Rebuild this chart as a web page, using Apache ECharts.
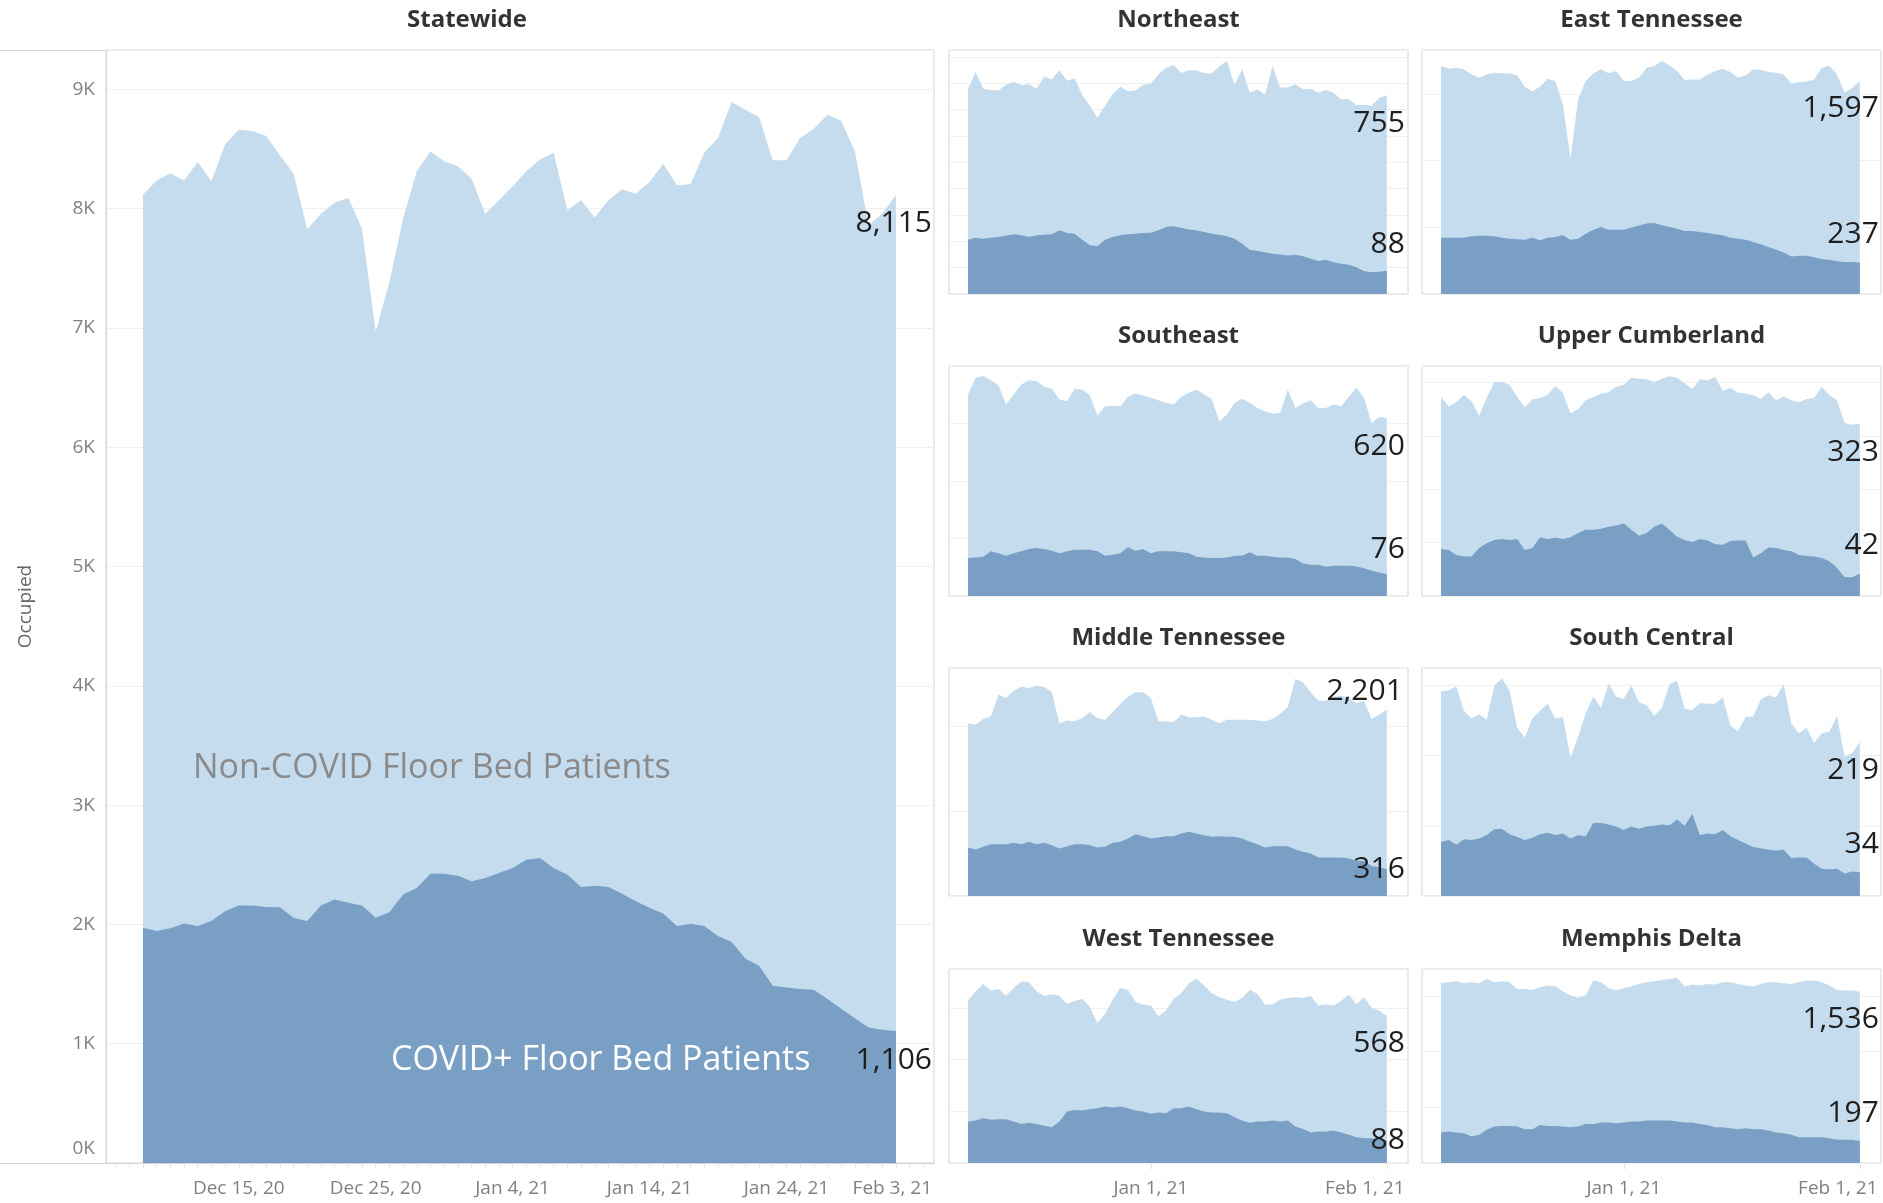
<!DOCTYPE html>
<html><head><meta charset="utf-8">
<script src="https://cdn.jsdelivr.net/npm/echarts@6/dist/echarts.min.js"></script>
<style>html,body{margin:0;padding:0;background:#fff}#c{width:1883px;height:1203px}</style>
</head><body><div id="c"></div>
<script>
// ---------------- DATA ----------------
const dates = ['2020-12-08','2020-12-09','2020-12-10','2020-12-11','2020-12-12','2020-12-13','2020-12-14','2020-12-15','2020-12-16','2020-12-17',
'2020-12-18','2020-12-19','2020-12-20','2020-12-21','2020-12-22','2020-12-23','2020-12-24','2020-12-25','2020-12-26','2020-12-27',
'2020-12-28','2020-12-29','2020-12-30','2020-12-31','2021-01-01','2021-01-02','2021-01-03','2021-01-04','2021-01-05','2021-01-06',
'2021-01-07','2021-01-08','2021-01-09','2021-01-10','2021-01-11','2021-01-12','2021-01-13','2021-01-14','2021-01-15','2021-01-16',
'2021-01-17','2021-01-18','2021-01-19','2021-01-20','2021-01-21','2021-01-22','2021-01-23','2021-01-24','2021-01-25','2021-01-26',
'2021-01-27','2021-01-28','2021-01-29','2021-01-30','2021-01-31','2021-02-01'];

const statewideXTickDates = ['2020-12-15','2020-12-25','2021-01-04','2021-01-14','2021-01-24','2021-02-03'];
const statewideXTickLabels = ['Dec 15, 20','Dec 25, 20','Jan 4, 21','Jan 14, 21','Jan 24, 21','Feb 3, 21'];
const regionXTickDates = ['2021-01-01','2021-02-01'];
const regionXTickLabels = ['Jan 1, 21','Feb 1, 21'];
const statewideYTicks = [0,1000,2000,3000,4000,5000,6000,7000,8000,9000];
const statewideYTickLabels = ['0K','1K','2K','3K','4K','5K','6K','7K','8K','9K'];

const statewideNonCovid = [8117,8237,8296,8237,8391,8229,8539,8662,8651,8609,8447,8293,7827,7958,8050,8092,7832,6966,7385,7916,8313,8480,8397,8355,8251,7958,8070,8187,8313,8413,8469,7986,8070,7925,8070,8162,8126,8223,8377,8196,8204,8469,8592,8894,8830,8768,8405,8405,8592,8670,8788,8737,8480,7860,7958,8115];
const statewideCovid = [1972,1944,1967,2008,1986,2028,2111,2158,2158,2147,2144,2056,2028,2158,2208,2181,2158,2056,2103,2250,2306,2425,2425,2408,2361,2389,2431,2472,2542,2556,2472,2417,2314,2325,2314,2258,2194,2139,2092,1986,2006,1986,1903,1853,1714,1653,1486,1472,1458,1453,1375,1292,1214,1136,1117,1106];

const northeastNonCovid = [780,843,780,775,773,795,805,793,797,780,825,815,850,810,820,755,715,670,715,760,787,770,773,795,798,835,860,870,840,850,850,840,838,865,885,795,855,765,778,757,865,785,785,797,778,780,765,775,765,740,740,718,718,715,745,755];
const northeastCovid = [206,214,210,214,217,222,227,223,217,223,225,227,242,232,229,206,185,181,206,217,223,227,229,232,233,242,255,257,252,245,242,236,229,225,219,210,191,168,163,159,153,150,146,149,143,134,125,130,121,115,111,102,87,83,85,88];

const eastTnNonCovid = [1709,1689,1696,1684,1646,1621,1646,1659,1654,1654,1638,1553,1520,1553,1613,1596,1420,1018,1458,1596,1654,1684,1654,1671,1596,1596,1621,1696,1709,1747,1714,1671,1603,1608,1608,1646,1671,1689,1664,1621,1638,1684,1679,1664,1659,1646,1578,1588,1593,1608,1696,1709,1646,1508,1545,1597];
const eastTnCovid = [422,422,422,422,432,437,437,432,422,415,410,407,422,402,422,427,440,407,415,452,482,503,482,482,482,498,513,528,533,515,503,490,472,472,465,457,447,440,422,415,407,390,372,352,332,312,281,286,286,276,261,256,246,239,239,237];

const southeastNonCovid = [702,760,766,752,733,667,702,737,751,749,729,722,684,678,722,719,698,628,661,663,661,694,705,698,690,682,673,667,694,708,719,702,687,608,632,673,687,673,655,643,635,637,719,655,670,682,655,655,667,661,694,725,690,602,623,620];
const southeastCovid = [132,134,137,156,149,140,149,156,164,167,164,158,149,156,161,161,161,156,140,144,149,170,158,164,149,156,156,156,152,149,137,134,132,132,134,140,140,152,140,140,137,134,134,129,113,109,109,102,105,105,105,103,97,88,82,76];

const upperCumbNonCovid = [373,355,363,377,365,338,371,401,401,396,373,354,368,371,377,393,381,342,350,367,373,379,382,392,396,409,407,406,401,407,412,409,398,388,406,404,411,384,390,381,379,376,369,382,367,374,367,363,369,371,392,376,367,324,321,323];
const upperCumbCovid = [88,86,77,74,74,90,99,105,107,105,107,86,90,110,107,109,107,110,118,124,124,126,130,132,136,124,113,118,130,136,124,111,105,101,107,104,97,96,103,104,104,72,80,91,90,86,84,77,75,74,71,65,53,35,35,42];

const middleTnNonCovid = [2038,2023,2089,2117,2376,2336,2423,2470,2454,2481,2470,2403,2038,2070,2062,2101,2168,2101,2078,2168,2266,2352,2403,2403,2336,2062,2062,2050,2140,2109,2109,2117,2078,2038,2078,2078,2078,2078,2070,2062,2089,2148,2234,2560,2521,2403,2305,2305,2352,2364,2336,2274,2305,2089,2140,2201];
const middleTnCovid = [572,549,580,612,612,612,627,612,639,612,627,600,561,588,612,612,600,572,580,627,639,678,729,706,678,690,706,706,737,757,737,717,698,706,698,698,678,639,612,572,588,588,588,549,521,502,455,455,455,455,443,416,416,353,340,316];

const southCentralNonCovid = [292,293,299,264,253,259,251,300,310,293,240,226,253,264,274,253,255,197,227,260,284,268,303,284,281,300,276,272,257,268,302,307,267,265,275,274,274,283,243,235,255,256,280,286,283,302,246,232,240,218,232,234,257,198,204,219];
const southCentralCovid = [77,80,73,81,80,82,87,95,96,88,84,80,83,88,90,87,89,82,87,85,104,104,102,99,94,99,96,99,100,102,101,109,100,117,87,89,88,94,85,80,75,70,68,66,65,66,54,55,55,46,39,38,39,32,35,34];

const westTnNonCovid = [628,664,692,667,673,647,677,703,699,664,647,651,647,615,626,635,603,541,577,631,677,669,622,613,609,567,590,635,656,695,712,686,656,641,631,622,638,669,654,613,613,631,638,641,638,647,609,613,609,626,651,615,641,600,590,568];
const westTnCovid = [160,164,173,167,169,169,160,151,156,151,144,138,160,199,205,203,208,212,218,215,218,212,203,199,190,195,192,212,212,218,208,199,195,195,192,177,164,156,160,160,164,160,164,141,131,118,122,122,126,118,109,100,96,96,92,88];

const memphisNonCovid = [1613,1622,1631,1613,1622,1613,1652,1622,1631,1622,1562,1562,1553,1577,1592,1583,1542,1503,1482,1503,1637,1622,1571,1548,1571,1583,1607,1622,1631,1643,1652,1661,1583,1601,1592,1607,1601,1622,1622,1607,1592,1583,1607,1622,1622,1613,1607,1622,1637,1637,1622,1592,1553,1548,1548,1536];
const memphisCovid = [274,283,274,268,238,253,298,327,333,333,327,304,304,342,333,333,327,321,327,351,351,363,363,357,363,372,372,381,381,381,381,372,363,363,351,342,321,321,312,304,312,304,304,292,274,268,253,232,232,232,232,223,208,208,208,197];

// ---------------- STYLE / LAYOUT ----------------
const FONT = "'Open Sans', 'Noto Sans', sans-serif";
const LIGHT = '#c5dcef';
const DARK = '#7a9fc4';
const BORDER = '#d4d4d4';
const GRIDLINE = '#efefef';
const AXISTXT = '#808080';
const DAY = 86400000;
const ORIGIN = Date.parse('2020-12-15T00:00:00Z');
const toX = s => (Date.parse(s + 'T00:00:00Z') - ORIGIN) / DAY;
const xs = dates.map(toX);
const fmtNum = v => Number(v).toLocaleString('en-US');

const LC = 949, RC = 1422, CW = 459;
const ROWS = [[50, 244], [366, 230], [668, 228], [969, 194]];

const panels = [
  {title:'Statewide', nc:statewideNonCovid, cv:statewideCovid, grid:{left:106, top:50, width:828, height:1113}, yMax:9330, yStep:1000, main:true, xMin:-9.7, lab:[[36,29],[36,29]]},
  {title:'Northeast', nc:northeastNonCovid, cv:northeastCovid, col:LC, row:0, yMax:927, yStep:100, lab:[[18,28],[18,-26]]},
  {title:'East Tennessee', nc:eastTnNonCovid, cv:eastTnCovid, col:RC, row:0, yMax:1829, yStep:500, lab:[[19,28],[19,-28]]},
  {title:'Southeast', nc:southeastNonCovid, cv:southeastCovid, col:LC, row:1, yMax:801, yStep:200, lab:[[18,28],[18,-25]]},
  {title:'Upper Cumberland', nc:upperCumbNonCovid, cv:upperCumbCovid, col:RC, row:1, yMax:431, yStep:100, lab:[[19,29],[19,-28]]},
  {title:'Middle Tennessee', nc:middleTnNonCovid, cv:middleTnCovid, col:LC, row:2, yMax:2690, yStep:1000, lab:[[16,-18],[18,0]]},
  {title:'South Central', nc:southCentralNonCovid, cv:southCentralCovid, col:RC, row:2, yMax:325, yStep:100, lab:[[19,28],[19,-28]]},
  {title:'West Tennessee', nc:westTnNonCovid, cv:westTnCovid, col:LC, row:3, yMax:750, yStep:200, lab:[[18,27],[18,0]], bottom:true},
  {title:'Memphis Delta', nc:memphisNonCovid, cv:memphisCovid, col:RC, row:3, yMax:1741, yStep:500, lab:[[19,28],[19,-28]], bottom:true}
];

const grids = [], xAxes = [], yAxes = [], series = [], graphics = [];

panels.forEach((p, i) => {
  const g = p.main ? p.grid : {left:p.col, top:ROWS[p.row][0], width:CW, height:ROWS[p.row][1]};
  grids.push({left:g.left, top:g.top, width:g.width, height:g.height, show:true, borderColor:BORDER, borderWidth:1, backgroundColor:'transparent', containLabel:false});

  // title
  const cx = p.main ? 467 : g.left + g.width / 2;
  graphics.push({type:'text', x:cx, y:g.top - 30, silent:true,
    style:{text:p.title, fill:'#333333', font:`700 24px ${FONT}`, align:'center', verticalAlign:'middle'}});

  const tickDates = p.main ? statewideXTickDates : regionXTickDates;
  const tickLabels = p.main ? statewideXTickLabels : regionXTickLabels;
  const tickX = tickDates.map(toX);
  const showX = p.main || p.bottom;
  const minorTicks = [];
  if (p.main) { for (let d = Math.ceil(p.xMin); d <= 50; d++) minorTicks.push(d); }
  const lastShift = p.main ? 62 : 44;
  xAxes.push({
    type:'value', gridIndex:i, min:p.main ? p.xMin : -9.5, max:50.78,
    axisLine:{show:!!p.main, onZero:false, lineStyle:{color:BORDER, width:1}},
    axisTick:{show:showX, customValues:p.main ? minorTicks : tickX, length:p.main ? 5 : 6, lineStyle:{color:'#e3e3e3'}},
    axisLabel:{show:showX, customValues:tickX, margin:16, color:AXISTXT, fontSize:19, fontFamily:FONT,
      formatter:v => {
        const k = tickX.findIndex(t => Math.abs(t - v) < 1e-6);
        if (k < 0) return '';
        return k === tickX.length - 1 ? `{s|${tickLabels[k]}}` : tickLabels[k];
      },
      rich:{s:{padding:[0, lastShift, 0, 0], color:AXISTXT, fontSize:19, fontFamily:FONT}}},
    splitLine:{show:false}
  });

  yAxes.push({
    type:'value', gridIndex:i, min:0, max:p.yMax, interval:p.yStep,
    name:p.main ? 'Occupied' : '', nameLocation:'middle', nameGap:71, nameRotate:90,
    nameTextStyle:{color:'#666666', fontSize:19, fontFamily:FONT},
    axisLine:{show:!!p.main, onZero:false, lineStyle:{color:BORDER}},
    axisTick:{show:false},
    axisLabel:{show:!!p.main, margin:11, color:AXISTXT, fontSize:19, fontFamily:FONT,
      formatter:v => {
        const k = statewideYTicks.indexOf(v);
        if (k < 0) return '';
        return k === 0 ? `{z|${statewideYTickLabels[k]}}` : statewideYTickLabels[k];
      },
      rich:{z:{padding:[0,0,28,0], color:AXISTXT, fontSize:19, fontFamily:FONT}}},
    splitLine:{show:true, lineStyle:{color:GRIDLINE, width:1}}
  });

  const last = xs.length - 1;
  const mk = (vals, off) => ({
    symbol:'circle', symbolSize:0, silent:true, animation:false,
    data:[{coord:[xs[last], vals[last]], value:vals[last]}],
    label:{show:true, position:'inside', align:'right', verticalAlign:'middle', offset:off,
      formatter:q => fmtNum(q.value), color:'#1e1e1e', fontSize:30, fontFamily:FONT}
  });

  series.push({
    name:'Non-COVID Floor Bed Patients', type:'line', xAxisIndex:i, yAxisIndex:i,
    data:p.nc.map((v, j) => [xs[j], v]), showSymbol:false, symbol:'none', silent:true,
    lineStyle:{width:0}, areaStyle:{color:LIGHT, opacity:1}, z:2, markPoint:mk(p.nc, p.lab[0])
  });
  series.push({
    name:'COVID+ Floor Bed Patients', type:'line', xAxisIndex:i, yAxisIndex:i,
    data:p.cv.map((v, j) => [xs[j], v]), showSymbol:false, symbol:'none', silent:true,
    lineStyle:{width:0}, areaStyle:{color:DARK, opacity:1}, z:3, markPoint:mk(p.cv, p.lab[1])
  });
});

// statewide pane frame extension (left of the value axis)
graphics.push({type:'line', silent:true, shape:{x1:0, y1:50.5, x2:106, y2:50.5}, style:{stroke:BORDER, lineWidth:1}});
graphics.push({type:'line', silent:true, shape:{x1:0, y1:1163.5, x2:106, y2:1163.5}, style:{stroke:BORDER, lineWidth:1}});
// in-chart series annotations
graphics.push({type:'text', x:193, y:768, silent:true, z:10,
  style:{text:'Non-COVID Floor Bed Patients', fill:'#8a8a8a', font:`34px ${FONT}`, align:'left', verticalAlign:'middle'}});
graphics.push({type:'text', x:391, y:1060, silent:true, z:10,
  style:{text:'COVID+ Floor Bed Patients', fill:'#ffffff', font:`34px ${FONT}`, align:'left', verticalAlign:'middle'}});

const chart = echarts.init(document.getElementById('c'), null, {renderer:'canvas'});
chart.setOption({
  animation:false,
  backgroundColor:'#ffffff',
  textStyle:{fontFamily:FONT},
  grid:grids, xAxis:xAxes, yAxis:yAxes, series:series,
  graphic:{elements:graphics}
});
</script></body></html>
